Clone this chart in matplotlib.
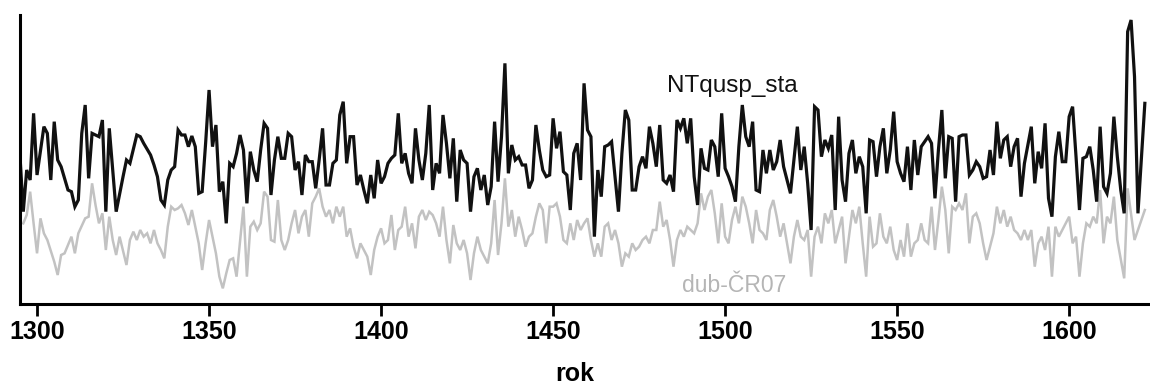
import numpy as np
import matplotlib
matplotlib.use("Agg")
import matplotlib.pyplot as plt

plt.rcParams['font.family'] = ['Liberation Sans', 'DejaVu Sans']

# roky 1295-1622, hodnoty (None = neodecteno)
first_year = 1295
last_year = 1622

nt_values = [
    470, 295, 420, 390, 590,
    405, None, 550, 530, 390, 565, 450, 430, None, 360,
    355, 310, 330, 530, 615, 395, 530, 525, 520, 570,
    295, 545, None, 295, None, 400, 450, 440, None, 525,
    520, 500, None, 465, 435, 400, 330, 315, 390, 420,
    430, 540, 525, 525, 490, 522, 490, 350, 355, 500,
    660, 490, 555, 355, 385, 260, 440, 430, 470, 525,
    480, 320, 475, 420, 385, 480, 560, 545, 345, 450,
    520, 455, 455, 530, 520, 420, 445, 345, 465, 445,
    445, 365, 450, 545, 375, 375, 440, 450, 585, 625,
    440, 520, 520, 375, 405, 360, 320, 405, 335, 450,
    380, 400, 440, 455, 465, 590, 440, 470, 410, 380,
    545, 450, 390, 470, 615, 360, 440, 410, 585, 500,
    395, 515, 325, 480, 450, 440, 295, 400, 425, 360,
    405, 315, 370, 565, 385, 520, 740, 410, 495, 450,
    460, 435, 435, 365, 390, 555, 480, 420, 400, 405,
    575, 485, 535, 415, 405, 300, 470, 500, 390, 680,
    540, 520, 220, 420, 340, 490, 495, 505, 400, 295,
    470, 600, 570, 360, 360, 430, 460, 425, 550, 500,
    430, 555, 390, 380, 405, 355, 570, 545, 575, 500,
    575, 400, 315, 485, 425, 420, 510, 490, 400, 590,
    425, 400, 370, 325, 490, 615, 520, 490, 565, 360,
    355, 480, 410, 480, 420, 445, 510, 430, None, 350,
    None, 550, 420, 490, 380, 240, 610, 600, 460, 510,
    485, 525, 300, 580, 390, 325, 470, 510, 410, 460,
    430, 290, 510, 505, 400, 490, 545, 410, 480, 595,
    445, 410, 385, 490, 360, 510, 405, 490, 505, 520,
    500, 335, 480, 600, 395, 520, 515, 325, 520, 525,
    525, 405, 420, 445, 430, 395, 400, 480, 405, 565,
    455, 510, 520, 430, 490, 515, 340, 440, 495, 550,
    380, 475, 425, 560, 335, 280, 460, 535, 445, 445,
    580, 610, 460, 300, 455, 460, 490, 420, 325, 550,
    370, 350, 410, 580, 460, 360, 290, 835, 870, 700,
    290, None, 620,
]

dub_values = [
    None, 260, 285, 355, 260,
    170, 275, 230, 210, None, 145, 105, 165, 170, None,
    220, 170, 230, None, 275, 280, 380, 315, 260, 290,
    180, 280, 210, 165, 220, None, 135, 210, 235, 210,
    240, 220, 230, 200, 240, 200, 180, 155, 250, 310,
    300, 305, 315, 290, 255, 300, 250, 200, 120, 200,
    270, 220, 170, 100, 65, 110, 150, 155, 100, 205,
    310, 100, 250, 265, 240, 260, 355, 340, 210, 205,
    330, 210, 180, 210, 260, 300, 230, 280, 300, 220,
    320, 340, 365, 310, 280, 300, 260, 310, 280, 310,
    220, 245, 190, 155, 200, 180, 160, 105, 180, 220,
    245, 200, 210, 285, 180, 240, 250, 310, 220, 260,
    185, 280, 300, 270, 295, 285, 260, 220, 310, 210,
    140, 255, 200, 180, 210, 170, 90, 170, 220, 180,
    160, 140, 200, 330, 165, 260, 395, 250, 300, 220,
    280, 240, 190, 220, 230, 280, 320, 300, 200, 310,
    310, 320, 280, 210, 200, 260, 210, 270, 240, 260,
    275, 210, 160, 200, 160, 250, 260, 210, 240, 200,
    130, 170, 160, 200, 180, 190, 210, 220, 200, 240,
    240, 325, 250, 270, 210, 130, 210, 240, 220, 250,
    240, 230, 260, 350, 300, 340, 360, 290, 200, 320,
    220, 200, 270, 310, 260, 340, 310, 260, 200, 300,
    240, 230, 210, 300, 330, 280, 220, 260, 200, 140,
    220, 270, 220, 210, 240, 100, 220, 250, 200, 290,
    260, 300, 200, 240, 280, 140, 220, 300, 260, 310,
    200, 100, 280, 190, 200, 290, 220, 200, 250, 180,
    150, 210, 160, 260, 160, 200, 210, 260, 210, 200,
    310, 180, 270, 370, 300, 170, 310, 300, 320, 300,
    350, 200, 280, 290, 260, 200, 150, 190, 230, 310,
    260, 300, 250, 280, 240, 230, 210, 240, 210, 240,
    130, 200, 220, 180, 250, 100, 250, 220, 240, None,
    280, 200, 220, 100, 200, 260, 250, 280, 260, 360,
    200, 280, 260, 340, 210, None, 95, 365, None, 210,
    240, None, 300,
]

x_ticks = [1300, 1350, 1400, 1450, 1500, 1550, 1600]
nt_label = "NTqusp_sta"
dub_label = "dub-ČR07"
x_label = "rok"


def series(values):
    years = np.arange(first_year, last_year + 1)
    vals = np.array([np.nan if v is None else v for v in values], dtype=float)
    ok = ~np.isnan(vals)
    return years[ok], vals[ok]


fig = plt.figure(figsize=(11.5, 3.85), dpi=100)
ax = fig.add_axes([20 / 1150, 81 / 385, 1130 / 1150, 289 / 385])

yd, vd = series(dub_values)
yn, vn = series(nt_values)
ax.plot(yd, vd, color='#c2c2c2', lw=1.8, solid_joinstyle='miter')
ax.plot(yn, vn, color='#111111', lw=2.3, solid_joinstyle='miter')

ax.text(1502, 655, nt_label, ha='center', va='baseline', fontsize=17.5, color='#111111')
ax.text(1502.6, 55, dub_label, ha='center', va='baseline', fontsize=16.5, color='#b5b5b5')

ax.set_xlim(1295.05, 1623.5)
ax.set_ylim(18, 885)
ax.set_xticks(x_ticks)
ax.set_yticks([])
for s in ['top', 'right']:
    ax.spines[s].set_visible(False)
for s in ['left', 'bottom']:
    ax.spines[s].set_linewidth(2.2)
ax.tick_params(axis='x', direction='out', length=8.5, width=2.0, pad=3, labelsize=18)
for lab in ax.get_xticklabels():
    lab.set_fontweight('bold')

fig.text(575 / 1150, 1 - 381 / 385, x_label, ha='center', va='baseline', fontsize=18, fontweight='bold')

fig.savefig('out.png', dpi=100)
